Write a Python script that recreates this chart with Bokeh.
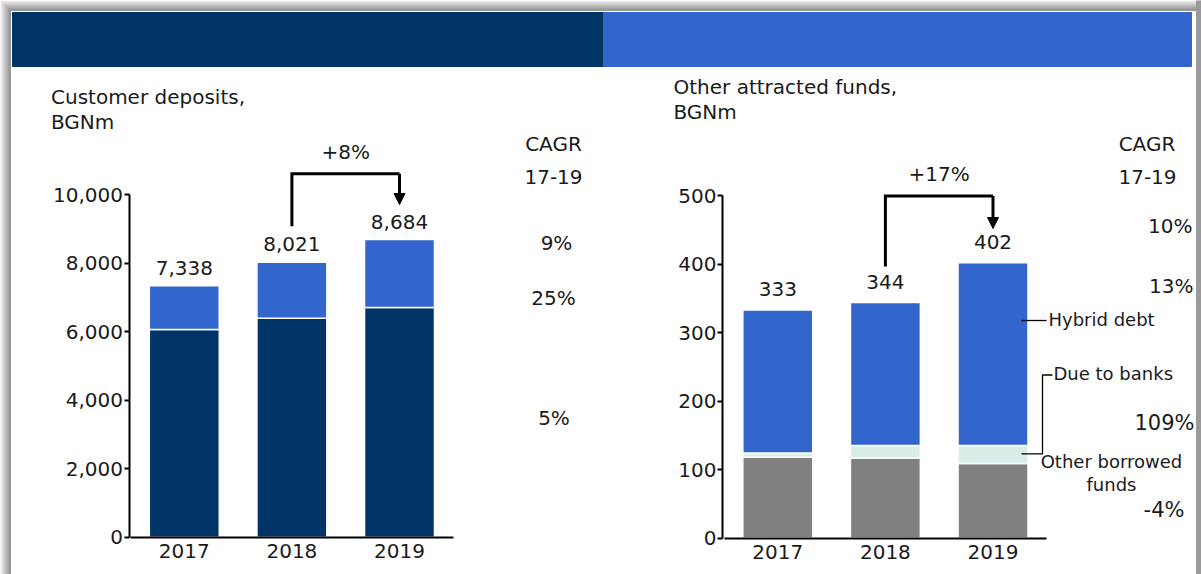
from bokeh.plotting import figure
from bokeh.models import (Range1d, LinearAxis, FixedTicker, NumeralTickFormatter,
                          Label, Arrow, NormalHead, ColumnDataSource)
from bokeh.core.properties import value
from bokeh.embed import file_html
from bokeh.resources import INLINE

# ---------------- data ----------------
years = ["2017", "2018", "2019"]
deposits_base = [6060, 6390, 6700]        # dark navy segment
deposits_top = [1278, 1631, 1984]         # blue segment
deposit_ticks = [0, 2000, 4000, 6000, 8000, 10000]
deposits_growth = "+8%"
deposits_cagr = ["9%", "25%", "5%"]

other_borrowed = [118, 117, 109]          # grey segment
due_to_banks = [6, 18, 26]                # light teal segment
hybrid_debt = [209, 209, 267]             # blue segment
other_ticks = [0, 100, 200, 300, 400, 500]
other_growth = "+17%"
other_cagr = ["10%", "13%", "109%", "-4%"]

# ---------------- geometry helpers (page pixels -> data) ----------------
OX, OY = 0, 0
W, H = 1201, 574
STEP = 107.6
SH = 8  # text baseline correction (px)


def lx(X):
    return (X - 183.8) / STEP


def ly(Y):
    return (536.7 - Y) / 0.03427


def rx(X):
    return (X - 777.3) / STEP


def ry(Y):
    return (537.5 - Y) / 0.6845


FONT = "DejaVu Sans"
TXT = "#1a1a1a"
NAVY = "#003366"
BLUE = "#3366CC"
TEAL = "#D8EDE8"
GREY = "#808080"

p = figure(width=W, height=H, output_backend="svg", toolbar_location=None,
           x_range=Range1d(lx(OX), lx(OX + W)), y_range=Range1d(ly(OY + H), ly(OY)),
           x_axis_location=None, y_axis_location=None, min_border=0, title=None)
p.extra_x_ranges = {"r": Range1d(rx(OX), rx(OX + W))}
p.extra_y_ranges = {"r": Range1d(ry(OY + H), ry(OY))}
p.outline_line_color = None
p.xgrid.visible = False
p.ygrid.visible = False
p.background_fill_color = "white"
p.border_fill_color = "white"

# frame shadow and header bars (decoration)
for i in range(10):
    g = int(242 - i * 10)
    c = "#%02x%02x%02x" % (g, g, g)
    p.quad(left=[lx(i)], right=[lx(i + 1)], bottom=[ly(H)], top=[ly(i)], color=c)
    p.quad(left=[lx(i)], right=[lx(1196)], bottom=[ly(i + 1)], top=[ly(i)], color=c)
p.quad(left=[lx(1196)], right=[lx(W)], bottom=[ly(H)], top=[ly(0)], color="#9A9A9A")
p.quad(left=[lx(12)], right=[lx(603)], bottom=[ly(66)], top=[ly(12)], color=NAVY)
p.quad(left=[lx(603)], right=[lx(1191)], bottom=[ly(66)], top=[ly(12)], color=BLUE)

xpos = list(range(len(years)))
BW = 0.65

# ---------------- left chart ----------------
dep_total = [a + b for a, b in zip(deposits_base, deposits_top)]
p.vbar(x=xpos, width=BW, bottom=0, top=deposits_base, fill_color=NAVY,
       line_color="white", line_width=1.5)
p.vbar(x=xpos, width=BW, bottom=deposits_base, top=dep_total, fill_color=BLUE,
       line_color="white", line_width=1.5)
src_l = ColumnDataSource(dict(x=xpos, y=[t + (10 + SH) / 0.03427 for t in dep_total],
                              t=[f"{t:,}" for t in dep_total]))
p.text(x="x", y="y", text="t", source=src_l, text_font=value(FONT), text_font_size="20px",
       text_align="center", text_baseline="alphabetic", text_color=TXT)

ly_axis = LinearAxis(fixed_location=lx(128.5), bounds=(0, 10000),
                     ticker=FixedTicker(ticks=deposit_ticks),
                     formatter=NumeralTickFormatter(format="0,0"))
lx_axis = LinearAxis(fixed_location=0, bounds=(-0.5, 2.5), ticker=FixedTicker(ticks=xpos),
                     major_label_overrides={i: y for i, y in enumerate(years)})
for ax in (ly_axis, lx_axis):
    ax.axis_line_width = 2
    ax.axis_line_color = "black"
    ax.major_tick_line_color = "black"
    ax.major_tick_line_width = 2
    ax.major_tick_in = 0
    ax.major_tick_out = 5
    ax.minor_tick_line_color = None
    ax.major_label_text_font = FONT
    ax.major_label_text_font_size = "20px"
    ax.major_label_text_color = TXT
    ax.major_label_standoff = 1
lx_axis.major_tick_line_color = None
lx_axis.major_label_standoff = 2
p.add_layout(ly_axis, "left")
p.add_layout(lx_axis, "below")

# growth bracket
p.line(x=[1, 1, 2], y=[ly(225.7), ly(173.3), ly(173.3)], line_width=3, line_color="black",
       line_join="miter")
p.add_layout(Arrow(end=NormalHead(size=11, fill_color="black", line_color="black"),
                   x_start=2, y_start=ly(173.3), x_end=2, y_end=ly(204),
                   line_width=3, line_color="black"))


def lab(x, yfun, Y, text, size="20px", align="left", rng=None):
    kw = dict(x=x, y=yfun(Y - SH), text=text, text_font=FONT, text_font_size=size,
              text_align=align, text_baseline="alphabetic", text_color=TXT)
    if rng:
        kw.update(x_range_name="r", y_range_name="r")
    p.add_layout(Label(**kw))


lab(1.5, ly, 159.5, deposits_growth, align="center")
lab(lx(50.5), ly, 104.5, "Customer deposits,")
lab(lx(50.5), ly, 129.5, "BGNm")
lab(lx(553), ly, 151.5, "CAGR", align="center")
lab(lx(553), ly, 184, "17-19", align="center")
lab(lx(556), ly, 250.5, deposits_cagr[0], align="center")
lab(lx(553), ly, 305, deposits_cagr[1], align="center")
lab(lx(553.5), ly, 425, deposits_cagr[2], align="center")

# ---------------- right chart ----------------
s1 = other_borrowed
s2 = [a + b for a, b in zip(s1, due_to_banks)]
s3 = [a + b for a, b in zip(s2, hybrid_debt)]
p.vbar(x=xpos, width=BW, bottom=0, top=s1, fill_color=GREY, line_color="white",
       line_width=1.5, x_range_name="r", y_range_name="r")
p.vbar(x=xpos, width=BW, bottom=s1, top=s2, fill_color=TEAL, line_color="white",
       line_width=1.5, x_range_name="r", y_range_name="r")
p.vbar(x=xpos, width=BW, bottom=s2, top=s3, fill_color=BLUE, line_color="white",
       line_width=1.5, x_range_name="r", y_range_name="r")
src_r = ColumnDataSource(dict(x=xpos, y=[t + (13 + SH) / 0.6845 for t in s3],
                              t=[f"{t:,}" for t in s3]))
p.text(x="x", y="y", text="t", source=src_r, text_font=value(FONT), text_font_size="20px",
       text_align="center", text_baseline="alphabetic", text_color=TXT,
       x_range_name="r", y_range_name="r")

ry_axis = LinearAxis(fixed_location=rx(722), bounds=(0, 500), ticker=FixedTicker(ticks=other_ticks),
                     x_range_name="r", y_range_name="r")
rx_axis = LinearAxis(fixed_location=0, bounds=(-0.5, 2.5), ticker=FixedTicker(ticks=xpos),
                     major_label_overrides={i: y for i, y in enumerate(years)},
                     x_range_name="r", y_range_name="r")
for ax in (ry_axis, rx_axis):
    ax.axis_line_width = 2
    ax.axis_line_color = "black"
    ax.major_tick_line_color = "black"
    ax.major_tick_line_width = 2
    ax.major_tick_in = 0
    ax.major_tick_out = 5
    ax.minor_tick_line_color = None
    ax.major_label_text_font = FONT
    ax.major_label_text_font_size = "20px"
    ax.major_label_text_color = TXT
    ax.major_label_standoff = 1
rx_axis.major_tick_line_color = None
rx_axis.major_label_standoff = 2
p.add_layout(ry_axis, "left")
p.add_layout(rx_axis, "below")

p.line(x=[1, 1, 2], y=[ry(266), ry(195.5), ry(195.5)], line_width=3, line_color="black",
       line_join="miter", x_range_name="r", y_range_name="r")
p.add_layout(Arrow(end=NormalHead(size=11, fill_color="black", line_color="black"),
                   x_start=2, y_start=ry(195.5), x_end=2, y_end=ry(228),
                   line_width=3, line_color="black", x_range_name="r", y_range_name="r"))

# leaders
p.line(x=[rx(1021), rx(1046)], y=[ry(320), ry(320)], line_width=1.3, line_color="black",
       x_range_name="r", y_range_name="r")
p.line(x=[rx(1021), rx(1042), rx(1042), rx(1052)], y=[ry(453.3), ry(453.3), ry(374.5), ry(374.5)],
       line_width=1.3, line_color="black", x_range_name="r", y_range_name="r")

lab(1.5, ry, 181, other_growth, align="center", rng=True)
lab(rx(673), ry, 94.5, "Other attracted funds,", rng=True)
lab(rx(673), ry, 119.5, "BGNm", rng=True)
lab(rx(1146.5), ry, 151.5, "CAGR", align="center", rng=True)
lab(rx(1147), ry, 184, "17-19", align="center", rng=True)
lab(rx(1192), ry, 233, other_cagr[0], align="right", rng=True)
lab(rx(1193), ry, 293, other_cagr[1], align="right", rng=True)
lab(rx(1194), ry, 430, other_cagr[2], align="right", size="21px", rng=True)
lab(rx(1184), ry, 517, other_cagr[3], align="right", size="21px", rng=True)
lab(rx(1048), ry, 327, "Hybrid debt", size="18px", rng=True)
lab(rx(1053), ry, 381, "Due to banks", size="18px", rng=True)
lab(rx(1111), ry, 469, "Other borrowed", size="18px", align="center", rng=True)
lab(rx(1111), ry, 492, "funds", size="18px", align="center", rng=True)

open("out.html", "w").write(file_html(p, INLINE))
